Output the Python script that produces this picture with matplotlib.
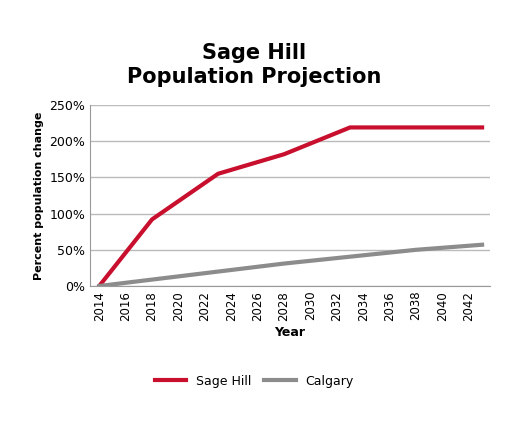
import matplotlib
matplotlib.use("Agg")
import matplotlib.pyplot as plt
from matplotlib.ticker import FuncFormatter

years_sage = [2014, 2018, 2023, 2028, 2033, 2043]
sage = [0, 92, 155, 182, 219, 219]
years_cal = [2014, 2028, 2038, 2043]
calgary = [0, 31, 50, 57]
xticks = list(range(2014, 2043, 2))

fig = plt.figure(figsize=(5.09, 4.25), dpi=100)
ax = fig.add_axes([90/509, 1-286/425, 400/509, 181/425])
ax.plot(years_sage, sage, color="#c8102e", lw=3, label="Sage Hill")
ax.plot(years_cal, calgary, color="#8c8c8c", lw=3, label="Calgary")
ax.set_xlim(2013.3, 2043.6)
ax.set_ylim(0, 250)
ax.set_yticks(range(0, 251, 50))
ax.yaxis.set_major_formatter(FuncFormatter(lambda v, p: f"{int(v)}%"))
ax.set_xticks(xticks)
ax.set_xticklabels([str(x) for x in xticks], rotation=90, fontsize=8.5)
ax.tick_params(axis="y", labelsize=9, length=0)
ax.tick_params(axis="x", length=0)
ax.grid(axis="y", color="#bbbbbb", lw=1)
ax.set_axisbelow(True)
for s in ["top", "right"]:
    ax.spines[s].set_visible(False)
ax.spines["left"].set_color("#999999")
ax.spines["bottom"].set_color("#999999")
ax.set_xlabel("Year", fontweight="bold", fontsize=9)
ax.set_ylabel("Percent population change", fontweight="bold", fontsize=8)
fig.text(0.5, 1-65/425, "Sage Hill\nPopulation Projection", ha="center", va="center",
         fontsize=15, fontweight="bold", linespacing=1.2)
fig.legend(loc="center", bbox_to_anchor=(0.5, 1-381/425), ncol=2, frameon=False,
           fontsize=9, handlelength=2.5, columnspacing=1)
fig.savefig("out.png", dpi=100)
